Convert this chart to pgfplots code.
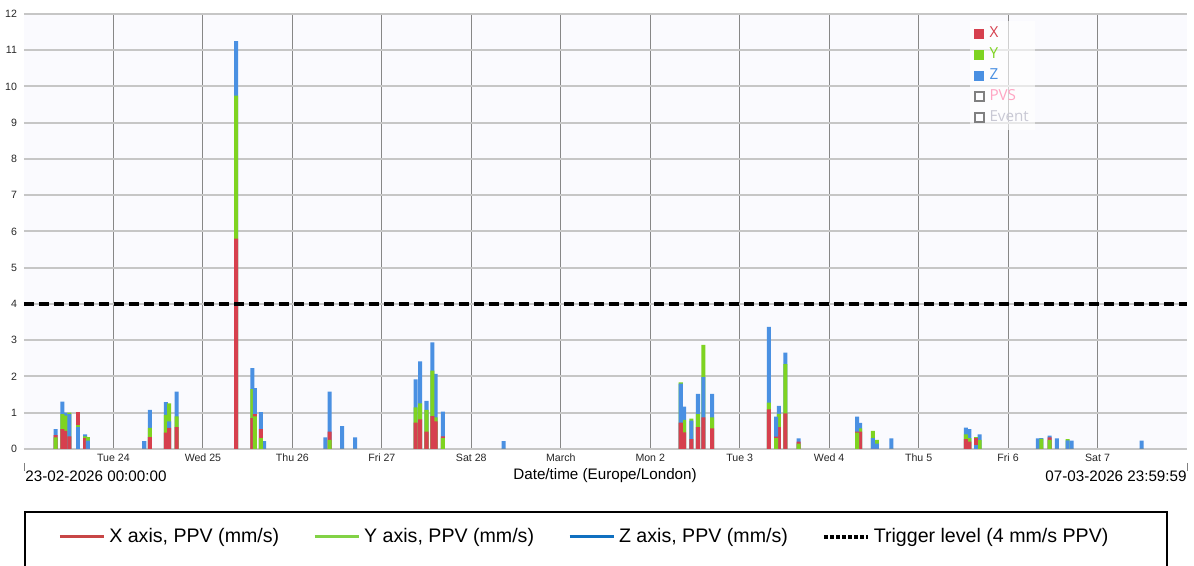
\documentclass[border=0pt]{standalone}
\usepackage{pgfplots}
\pgfplotsset{compat=1.18}
\usepackage{pgfplotstable}
\usepackage{fontspec}
\setmainfont{Liberation Sans}
\newfontfamily\legfont{Open Sans}

\definecolor{cX}{RGB}{214,64,78}
\definecolor{cY}{RGB}{126,211,33}
\definecolor{cZ}{RGB}{74,144,226}
\definecolor{lX}{RGB}{200,70,70}
\definecolor{lY}{RGB}{130,210,70}
\definecolor{lZ}{RGB}{16,112,192}
\definecolor{gridh}{RGB}{198,198,198}
\definecolor{gridv}{RGB}{135,135,135}
\definecolor{bgc}{RGB}{250,250,254}
\definecolor{pvs}{RGB}{255,165,195}
\definecolor{evt}{RGB}{200,200,212}

% days since 23-02-2026 00:00, peak particle velocity per axis (mm/s)
% one table per drawing order (largest value drawn first)
\pgfplotstableread{
t X Y Z
0.428 0.55 0.96 1.31
0.464 0.50 0.92 1.00
0.682 0.30 0.35 0.40
1.344 0 0 0.22
1.408 0.33 0.58 1.08
1.587 0.45 0.94 1.29
1.706 0.60 0.90 1.58
2.372 5.80 9.75 11.25
2.553 0.85 1.65 2.23
2.685 0 0 0.22
3.369 0 0 0.32
3.556 0 0 0.63
3.702 0 0 0.32
4.377 0.73 1.15 1.92
4.428 0.82 1.26 2.42
4.499 0.48 1.08 1.33
4.566 0.91 2.16 2.94
4.600 0.76 0.87 2.07
5.360 0 0 0.22
7.378 0.46 0.80 1.17
7.534 0.60 0.96 1.52
7.691 0.57 0.87 1.52
8.327 1.09 1.28 3.37
8.439 0.60 0.97 1.19
8.511 0.98 2.34 2.66
9.346 0.48 0.57 0.72
9.695 0 0 0.29
10.528 0.27 0.40 0.59
10.566 0.20 0.30 0.55
10.682 0 0.25 0.40
11.333 0 0 0.29
11.371 0 0.28 0.30
11.545 0 0 0.29
11.709 0 0 0.23
12.492 0 0 0.23
}\zyx

\pgfplotstableread{
t X Y Z
0.354 0.38 0.32 0.55
2.581 0.96 0.90 1.68
2.648 0.55 0.30 1.02
3.416 0.48 0.25 1.58
4.682 0.35 0.30 1.03
8.406 0.34 0.30 0.89
8.659 0.20 0.15 0.29
9.313 0.48 0.45 0.89
11.464 0.32 0.25 0.37
}\zxy

\pgfplotstableread{
t X Y Z
0.506 0.35 1.00 0.96
0.715 0 0.33 0.23
1.623 0.58 1.26 0.76
7.341 0.73 1.84 1.80
7.460 0.27 0.84 0.78
7.594 0.87 2.87 1.98
9.489 0 0.50 0.30
9.534 0 0.25 0.15
11.665 0 0.27 0.24
}\yzx

\pgfplotstableread{
t X Y Z
0.600 1.03 0.67 0.60
}\xyz

\pgfplotstableread{
t X Y Z
10.645 0.30 0.32 0.10
}\yxz

\pgfplotsset{
  barbase/.style={ybar, bar width=0.045, bar shift=0pt, draw=none, forget plot},
  barX/.style={barbase, fill=cX},
  barY/.style={barbase, fill=cY},
  barZ/.style={barbase, fill=cZ},
}
\newcommand{\drawgroup}[4]{%
  \addplot[bar#2] table[x=t,y=#2]{#1};
  \addplot[bar#3] table[x=t,y=#3]{#1};
  \addplot[bar#4] table[x=t,y=#4]{#1};
}

\begin{document}
\begin{tikzpicture}
\useasboundingbox (0,0) rectangle (597pt,283pt);

\begin{axis}[
    at={(12pt,58.5pt)}, anchor=south west,
    scale only axis,
    width=581.5pt, height=217.5pt,
    xmin=0, xmax=13,
    ymin=0, ymax=12,
    xtick={1,...,12},
    xticklabels={Tue 24,Wed 25,Thu 26,Fri 27,Sat 28,March,Mon 2,Tue 3,Wed 4,Thu 5,Fri 6,Sat 7},
    ytick={0,...,12},
    grid=major,
    x grid style={draw=gridv, line width=0.5pt},
    y grid style={draw=gridh, line width=1pt},
    axis line style={draw=none},
    major tick length=0pt,
    tick label style={font=\fontsize{5.3}{6}\selectfont, text=black!85},
    xticklabel style={yshift=1pt},
    /pgf/number format/assume math mode=true,
    axis background/.style={fill=bgc},
    clip=false,
    legend columns=4,
    legend cell align=left,
    legend image code/.code={\draw[#1] (0pt,0pt) -- (22pt,0pt);},
    legend style={
        at={(0.024,-0.202)}, anchor=west,
        draw=none, fill=none,
        font=\fontsize{9.8}{11}\selectfont,
        /tikz/every even column/.append style={column sep=15pt},
    },
]

\drawgroup{\zyx}{Z}{Y}{X}
\drawgroup{\zxy}{Z}{X}{Y}
\drawgroup{\yzx}{Y}{Z}{X}
\drawgroup{\xyz}{X}{Y}{Z}
\drawgroup{\yxz}{Y}{X}{Z}

% trigger level
\addplot[black, line width=2pt, dash pattern=on 5pt off 2.5pt, forget plot]
    coordinates {(0,4) (13,4)};

\addlegendimage{lX, line width=1.5pt}
\addlegendentry{X axis, PPV (mm/s)}
\addlegendimage{lY, line width=1.5pt}
\addlegendentry{Y axis, PPV (mm/s)}
\addlegendimage{lZ, line width=1.5pt}
\addlegendentry{Z axis, PPV (mm/s)}
\addlegendimage{black, line width=2pt, dash pattern=on 2pt off 1pt}
\addlegendentry{Trigger level (4 mm/s PPV)}

\node[anchor=west, inner sep=0pt, font=\fontsize{7.6}{9}\selectfont]
    at ([yshift=-13.5pt,xshift=0.5pt]rel axis cs:0,0) {23-02-2026 00:00:00};
\node[inner sep=0pt, font=\fontsize{7.6}{9}\selectfont]
    at ([yshift=-13.5pt]rel axis cs:0.4996,0) {Date/time (Europe/London)};
\node[anchor=east, inner sep=0pt, font=\fontsize{7.6}{9}\selectfont]
    at ([yshift=-13.5pt]rel axis cs:1,0) {07-03-2026 23:59:59};
\draw[gray, line width=0.4pt] ([yshift=-7pt]rel axis cs:0,0) -- ++(0,-4pt);
\draw[gray, line width=0.4pt] ([yshift=-7pt]rel axis cs:1,0) -- ++(0,-4pt);
\end{axis}

% series legend in the upper right corner of the plot
\begin{axis}[
    at={(12pt,58.5pt)}, anchor=south west,
    scale only axis,
    width=581.5pt, height=217.5pt,
    hide axis,
    xmin=0, xmax=1, ymin=0, ymax=1,
    legend cell align=left,
    legend image code/.code={\draw[fill opacity=1, draw opacity=1, #1] (0pt,-2.25pt) rectangle (4.5pt,2.25pt);},
    legend style={
        at={(0.813,0.985)}, anchor=north west,
        draw=none, fill=white, fill opacity=0.6, text opacity=1,
        inner sep=2pt,
        font=\legfont\fontsize{7.6}{9}\selectfont,
        nodes={inner sep=1pt, text height=5.5pt, text depth=1pt},
        /tikz/every even column/.append style={column sep=0pt},
        /tikz/every odd column/.append style={column sep=1.5pt},
        row sep=2pt,
    },
]
\addlegendimage{fill=cX, draw=cX}
\addlegendentry{\textcolor{cX}{X}}
\addlegendimage{fill=cY, draw=cY}
\addlegendentry{\textcolor{cY}{Y}}
\addlegendimage{fill=cZ, draw=cZ}
\addlegendentry{\textcolor{cZ}{Z}}
\addlegendimage{draw=gray, line width=0.8pt, fill=none}
\addlegendentry{\textcolor{pvs}{PVS}}
\addlegendimage{draw=gray, line width=0.8pt, fill=none}
\addlegendentry{\textcolor{evt}{Event}}
\end{axis}

% frame of the bottom legend (its lower edge lies below the page)
\draw[black, line width=0.75pt] (12.5pt,-20pt) rectangle (583.5pt,27pt);
\end{tikzpicture}
\end{document}
